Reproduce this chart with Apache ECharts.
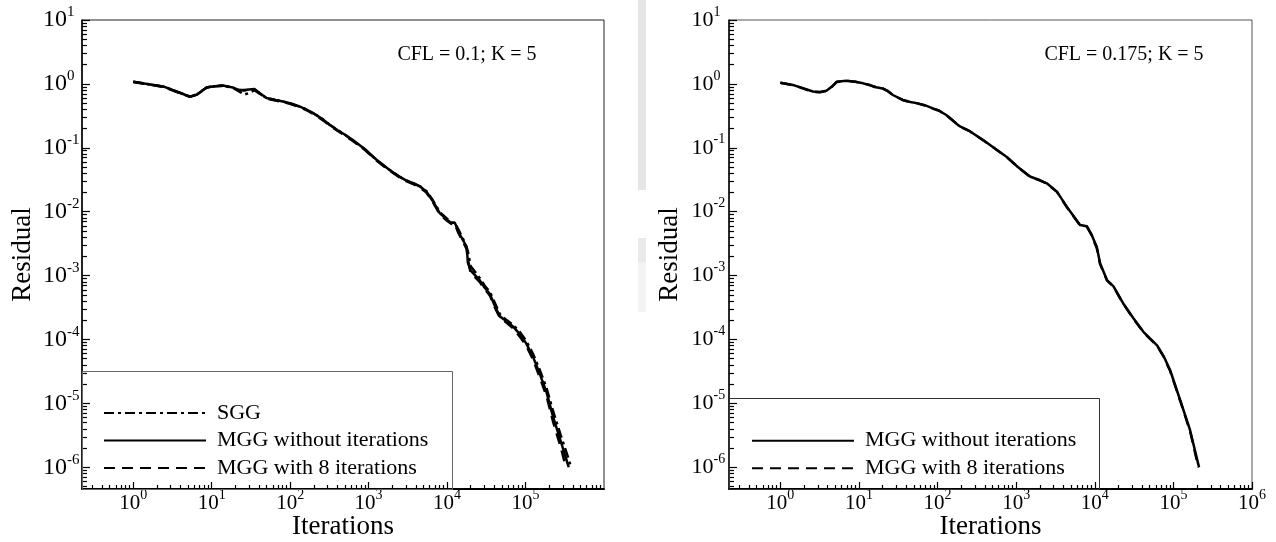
<!DOCTYPE html>
<html><head><meta charset="utf-8">
<script src="https://cdn.jsdelivr.net/npm/echarts@6/dist/echarts.min.js"></script>
<style>html,body{margin:0;padding:0;background:#fff}#c{width:1276px;height:542px}</style>
</head><body><div id="c"></div><script>
// ---- tick labels / ranges ----
const xMajorLeft = [1, 10, 100, 1000, 10000, 100000];
const xMajorRight = [1, 10, 100, 1000, 10000, 100000, 1000000];
const yMajor = [1e-6, 1e-5, 1e-4, 1e-3, 1e-2, 1e-1, 1, 10];
const X_MIN = 0.2223, X_MAX = 1000000;
const Y_MIN = 4.57e-7, Y_MAX = 10;
const legendLeftNames = ['SGG', 'MGG without iterations', 'MGG with 8 iterations'];
const legendRightNames = ['MGG without iterations', 'MGG with 8 iterations'];
const annotLeft = 'CFL = 0.1; K = 5';
const annotRight = 'CFL = 0.175; K = 5';

// ---- series values [iterations, residual] ----
const leftSGG = [[1,1.08],[1.5,1.0],[2.5,0.9],[4,0.72],[5.3,0.63],[6.5,0.68],[8.6,0.87],[11,0.92],[14,0.93],[18.6,0.87],[22,0.77],[26,0.68],[30,0.72],[35,0.8],[42,0.69],[50,0.6],[65,0.56],[81,0.53],[105,0.48],[133,0.44],[160,0.4],[195,0.35],[250,0.29],[318,0.23],[400,0.19],[500,0.16],[630,0.13],[900,0.094],[1260,0.064],[1800,0.046],[2500,0.035],[3000,0.031],[3700,0.028],[4500,0.025],[5450,0.021],[6500,0.0155],[8100,0.0098],[10000,0.0078],[11400,0.0068],[12500,0.0067],[14000,0.0052],[17000,0.0032],[18400,0.0024],[20000,0.0014],[26000,9.2e-4],[30000,7e-4],[35000,5.6e-4],[40000,3.9e-4],[47000,2.5e-4],[55000,2.1e-4],[69000,1.7e-4],[85000,1.3e-4],[102000,9.5e-5],[125000,5.9e-5],[151000,3.4e-5],[185000,1.75e-5],[224000,7.6e-6],[280000,3.2e-6],[347000,1.45e-6],[380000,1e-6]];
const leftMGG = [[1,1.08],[1.5,1.0],[2.5,0.9],[4,0.72],[5.3,0.63],[6.5,0.68],[8.6,0.88],[11,0.92],[14,0.94],[18.6,0.88],[22,0.8],[26,0.8],[30,0.82],[35,0.83],[42,0.7],[50,0.6],[65,0.56],[81,0.53],[105,0.49],[133,0.44],[160,0.4],[195,0.35],[250,0.29],[318,0.23],[400,0.19],[500,0.16],[630,0.132],[900,0.095],[1260,0.065],[1800,0.046],[2500,0.035],[3000,0.031],[3700,0.028],[4500,0.025],[5450,0.0206],[6500,0.015],[8100,0.0094],[10000,0.0075],[11400,0.0066],[12500,0.0068],[14000,0.0048],[17800,0.0028],[18400,0.0016],[20000,0.0012],[26000,8.5e-4],[30000,6.5e-4],[35000,5.2e-4],[40000,3.5e-4],[47000,2.3e-4],[55000,2.0e-4],[69000,1.6e-4],[85000,1.2e-4],[102000,8.7e-5],[125000,5.3e-5],[151000,2.95e-5],[185000,1.5e-5],[224000,6.2e-6],[280000,2.6e-6],[347000,1.1e-6],[355000,1e-6]];
const leftMGG8 = [[1,1.07],[1.5,0.99],[2.5,0.89],[4,0.71],[5.3,0.63],[6.5,0.69],[8.6,0.88],[11,0.93],[14,0.94],[18.6,0.88],[22,0.8],[26,0.79],[30,0.81],[35,0.82],[42,0.69],[50,0.59],[65,0.55],[81,0.52],[105,0.48],[133,0.43],[160,0.39],[195,0.34],[250,0.28],[318,0.225],[400,0.185],[500,0.155],[630,0.128],[900,0.092],[1260,0.063],[1800,0.045],[2500,0.034],[3000,0.030],[3700,0.027],[4500,0.024],[5450,0.02],[6500,0.0145],[8100,0.009],[10000,0.0072],[11400,0.0064],[12500,0.0065],[14000,0.0046],[17800,0.0026],[18400,0.0018],[20000,0.0011],[26000,8e-4],[30000,6.2e-4],[35000,4.9e-4],[40000,3.3e-4],[47000,2.2e-4],[55000,1.9e-4],[69000,1.5e-4],[85000,1.1e-4],[102000,8e-5],[125000,4.8e-5],[151000,2.6e-5],[185000,1.3e-5],[224000,5.2e-6],[280000,2.1e-6],[320000,1.1e-6],[330000,1e-6]];
const rightMGG = [[1,1.04],[1.5,0.95],[2.6,0.76],[3.2,0.75],[3.86,0.78],[4.5,0.9],[5.2,1.08],[6.9,1.12],[9,1.08],[11.3,1.02],[14,0.95],[16.6,0.885],[20,0.85],[23,0.78],[27,0.67],[36,0.56],[45,0.52],[54,0.5],[70,0.46],[87,0.415],[105,0.38],[129,0.326],[155,0.27],[181,0.228],[196,0.214],[260,0.18],[380,0.132],[520,0.1],[760,0.072],[1050,0.05],[1500,0.0355],[2000,0.031],[2450,0.0278],[3300,0.0206],[4400,0.012],[5500,0.0082],[6500,0.0062],[7950,0.0059],[9000,0.0045],[10600,0.0028],[11700,0.00155],[14300,8.5e-4],[17300,6.8e-4],[22900,3.7e-4],[31000,2.15e-4],[41500,1.32e-4],[50000,1.05e-4],[62000,8.1e-5],[75000,5.5e-5],[91000,3.3e-5],[122000,1.12e-5],[163000,3.8e-6],[208000,1.1e-6],[212000,1e-6]];
const rightMGG8 = [[1,1.04],[1.5,0.95],[2.6,0.75],[3.2,0.74],[3.86,0.78],[4.5,0.9],[5.2,1.07],[6.9,1.12],[9,1.08],[11.3,1.02],[14,0.95],[16.6,0.88],[20,0.85],[23,0.78],[27,0.67],[36,0.56],[45,0.52],[54,0.5],[70,0.46],[87,0.41],[105,0.38],[129,0.325],[155,0.27],[181,0.228],[196,0.213],[260,0.18],[380,0.131],[520,0.1],[760,0.071],[1050,0.05],[1500,0.035],[2000,0.031],[2450,0.0276],[3300,0.0204],[4400,0.0118],[5500,0.0081],[6500,0.0061],[7950,0.0058],[9000,0.0044],[10600,0.0027],[11700,0.0015],[14300,8.4e-4],[17300,6.7e-4],[22900,3.65e-4],[31000,2.12e-4],[41500,1.3e-4],[50000,1.03e-4],[62000,8e-5],[75000,5.4e-5],[91000,3.2e-5],[122000,1.1e-5],[163000,3.7e-6],[206000,1.05e-6],[210000,1e-6]];

// ---- helpers ----
const FONT = 'Liberation Serif';
function minorTicks(lo, hi) {
  const out = [];
  for (let e = -7; e <= 6; e++) for (let k = 2; k <= 9; k++) {
    const v = k * Math.pow(10, e);
    if (v > lo && v < hi) out.push(v);
  }
  return out;
}
function rich(b, s) {
  return {
    b: { fontFamily: FONT, fontSize: b, lineHeight: 30, color: '#000' },
    s: { fontFamily: FONT, fontSize: s, verticalAlign: 'top', color: '#000' }
  };
}
const fmtPow = v => '{b|10}{s|' + Math.round(Math.log10(v)) + '}';

function xAxesFor(g, majors) {
  return [{
    type: 'log', logBase: 10, gridIndex: g, min: X_MIN, max: X_MAX, position: 'bottom',
    axisLine: { show: true, onZero: false, lineStyle: { color: '#000', width: 2 } },
    axisTick: { show: true, inside: true, length: 7, customValues: majors, lineStyle: { color: '#000', width: 1.2 } },
    axisLabel: { show: true, customValues: majors, formatter: fmtPow, rich: rich(21, 14), margin: -1 },
    splitLine: { show: false }, minorTick: { show: false },
    name: 'Iterations', nameLocation: 'middle', nameGap: 24, nameMoveOverlap: false,
    nameTextStyle: { fontFamily: FONT, fontSize: 27, color: '#000' }
  }, {
    type: 'log', logBase: 10, gridIndex: g, min: X_MIN, max: X_MAX, position: 'bottom',
    axisLine: { show: false },
    axisTick: { show: true, inside: true, length: 4, customValues: minorTicks(X_MIN, X_MAX), lineStyle: { color: '#000', width: 1.2 } },
    axisLabel: { show: false }, splitLine: { show: false }
  }];
}
function yAxesFor(g, margin, fs, ss) {
  return [{
    type: 'log', logBase: 10, gridIndex: g, min: Y_MIN, max: Y_MAX, position: 'left',
    axisLine: { show: true, onZero: false, lineStyle: { color: '#000', width: 1.5 } },
    axisTick: { show: true, inside: true, length: 8, customValues: yMajor, lineStyle: { color: '#000', width: 1.2 } },
    axisLabel: { show: true, customValues: yMajor, formatter: fmtPow, rich: rich(fs, ss), margin: margin, align: 'left' },
    splitLine: { show: false }, minorTick: { show: false },
    name: 'Residual', nameLocation: 'middle', nameGap: 46, nameRotate: 90, nameMoveOverlap: false,
    nameTextStyle: { fontFamily: FONT, fontSize: 27, color: '#000' }
  }, {
    type: 'log', logBase: 10, gridIndex: g, min: Y_MIN, max: Y_MAX, position: 'left',
    axisLine: { show: false },
    axisTick: { show: true, inside: true, length: 5, customValues: minorTicks(Y_MIN, Y_MAX), lineStyle: { color: '#000', width: 1.2 } },
    axisLabel: { show: false }, splitLine: { show: false }
  }];
}
function lineSeries(name, data, xi, yi, type) {
  return {
    type: 'line', name: name, data: data, xAxisIndex: xi, yAxisIndex: yi,
    symbol: 'none', showSymbol: false, animation: false,
    lineStyle: { color: '#000', width: 2.5, type: type }, itemStyle: { color: '#000' }
  };
}
const DASHDOT = [10, 4, 3, 4];
const DASHED = [11, 7];
const legendCommon = {
  orient: 'vertical', itemWidth: 102, itemHeight: 14, itemGap: 5.5, selectedMode: false,
  itemStyle: { color: 'rgba(0,0,0,0)', borderColor: 'rgba(0,0,0,0)', borderWidth: 0 },
  textStyle: { fontFamily: FONT, fontSize: 22, color: '#000', padding: [0, 0, 0, 6] }
};

const option = {
  backgroundColor: '#fff',
  animation: false,
  grid: [
    { left: 82, top: 20, width: 522, height: 469, show: true, borderColor: '#222', borderWidth: 1, outerBoundsMode: 'none', containLabel: false },
    { left: 729, top: 20, width: 523, height: 469, show: true, borderColor: '#555', borderWidth: 1, outerBoundsMode: 'none', containLabel: false }
  ],
  xAxis: [...xAxesFor(0, xMajorLeft), ...xAxesFor(1, xMajorRight)],
  yAxis: [...yAxesFor(0, 39, 24, 15), ...yAxesFor(1, 37.5, 22, 14)],
  legend: [
    Object.assign({ left: 98, top: 397, data: legendLeftNames }, legendCommon),
    Object.assign({ left: 746, top: 424.7, data: legendRightNames }, legendCommon)
  ],
  graphic: [
    { type: 'rect', shape: { x: 82.5, y: 371.5, width: 370, height: 118 }, style: { fill: 'none', stroke: '#666', lineWidth: 1 }, z: 5 },
    { type: 'rect', shape: { x: 729.5, y: 398.5, width: 370, height: 91 }, style: { fill: 'none', stroke: '#333', lineWidth: 1 }, z: 5 },
    { type: 'text', x: 467, y: 55, style: { text: annotLeft, fontFamily: FONT, fontSize: 20, fill: '#000', textAlign: 'center', textVerticalAlign: 'middle' } },
    { type: 'text', x: 1124, y: 55, style: { text: annotRight, fontFamily: FONT, fontSize: 20, fill: '#000', textAlign: 'center', textVerticalAlign: 'middle' } },
    { type: 'rect', shape: { x: 638, y: 0, width: 8, height: 190 }, style: { fill: '#e6e6e6' }, z: 0 },
    { type: 'rect', shape: { x: 638, y: 238, width: 8, height: 30 }, style: { fill: '#e9e9e9' }, z: 0 },
    { type: 'rect', shape: { x: 638, y: 262, width: 8, height: 50 }, style: { fill: '#f3f3f3' }, z: 0 }
  ],
  series: [
    lineSeries('SGG', leftSGG, 0, 0, DASHDOT),
    lineSeries('MGG with 8 iterations', leftMGG8, 0, 0, DASHED),
    lineSeries('MGG without iterations', leftMGG, 0, 0, 'solid'),
    lineSeries('MGG with 8 iterations', rightMGG8, 2, 2, DASHED),
    lineSeries('MGG without iterations', rightMGG, 2, 2, 'solid')
  ]
};
const chart = echarts.init(document.getElementById('c'), null, { renderer: 'canvas' });
chart.setOption(option);
</script></body></html>
